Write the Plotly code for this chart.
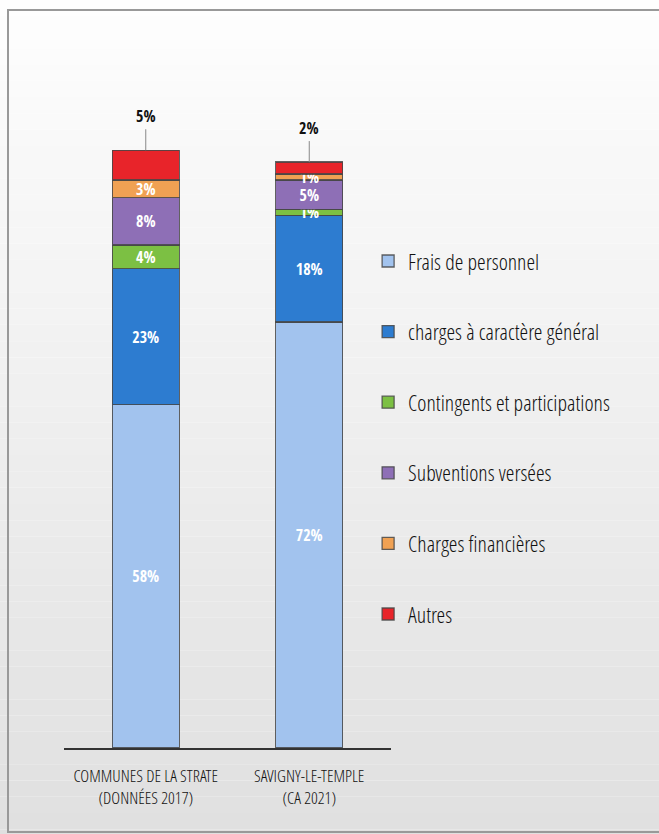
import plotly.graph_objects as go

categories = ["COMMUNES DE LA STRATE<br>(DONNÉES 2017)", "SAVIGNY-LE-TEMPLE<br>(CA 2021)"]
series_names = ["Frais de personnel", "charges à caractère général", "Contingents et participations",
                "Subventions versées", "Charges financières", "Autres"]
frais = [58, 72]
charges_gen = [23, 18]
contingents = [4, 1]
subventions = [8, 5]
financieres = [3, 1]
autres = [5, 2]
series_values = [frais, charges_gen, contingents, subventions, financieres, autres]
colors = ["#a2c3ee", "#2d7cd0", "#7cc043", "#8e6fb6", "#f0a153", "#e8242a"]

BOLD = "Open Sans Condensed, sans-serif"
LIGHT = "Open Sans Condensed Light, Open Sans CondLight, sans-serif"

fig = go.Figure()
for i, (name, vals, col) in enumerate(zip(series_names, series_values, colors)):
    inside = name != "Autres"
    fig.add_trace(go.Bar(
        x=categories, y=vals, name=name,
        marker=dict(color=col, line=dict(color="rgba(70,70,70,0.85)", width=1.3)),
        text=[f"{v}%" for v in vals] if inside else None,
        texttemplate="%{text}" if inside else None,
        textposition="inside" if inside else "none",
        insidetextanchor="middle",
        textfont=dict(color="white", size=16, family=BOLD, weight="bold"),
        textangle=0,
        legendgroup=f"g{i}",
        width=0.41,
    ))

# Outside labels for "Autres" with leader lines
totals = [sum(s[k] for s in series_values) for k in range(len(categories))]
for k, cat in enumerate(categories):
    fig.add_annotation(x=cat, y=totals[k], xref="x", yref="y",
                       text=f"{autres[k]}%", showarrow=True, arrowhead=0,
                       arrowcolor="#888", arrowwidth=1, ax=0, ay=-21,
                       yanchor="bottom",
                       font=dict(color="#111", size=16, family=BOLD, weight="bold"))

# Background gradient bands
shapes = []
n = 60
for j in range(n):
    t = j / (n - 1)
    g = int(round(255 - 35 * t))
    shapes.append(dict(type="rect", xref="paper", yref="paper",
                       x0=-1, x1=3, y0=1.2 - (j + 1) * (1.5 / n), y1=1.2 - j * (1.5 / n),
                       fillcolor=f"rgb({g},{g},{g})", line=dict(width=0), layer="below"))

fig.update_layout(
    width=659, height=834,
    barmode="stack",
    paper_bgcolor="white",
    plot_bgcolor="rgba(0,0,0,0)",
    margin=dict(l=64, r=268, t=97, b=86, autoexpand=False),
    showlegend=True,
    legend=dict(x=0.93, y=0.78, xanchor="left", yanchor="top",
                traceorder="grouped", tracegroupgap=39,
                font=dict(size=22, family=LIGHT, color="#111", weight=300),
                bgcolor="rgba(0,0,0,0)", itemwidth=30),
    uniformtext=dict(minsize=16, mode="show"),
    xaxis=dict(showline=True, linecolor="#333", linewidth=1.5, ticks="",
               tickfont=dict(size=17, family=LIGHT, color="#111", weight=300),
               ticklabelstandoff=12, tickangle=0, automargin=False,
               showgrid=False, range=[-0.5, 1.5]),
    yaxis=dict(visible=False, range=[0, 110], showgrid=False),
    shapes=shapes,
)
fig.add_shape(type="rect", xref="paper", yref="paper",
              x0=-56 / 327, x1=(659 - 64 + 5) / 327, y0=-84 / 651,
              y1=(748 - 10) / 651, line=dict(color="#999", width=2), fillcolor="rgba(0,0,0,0)")
fig.write_html("out.html")
